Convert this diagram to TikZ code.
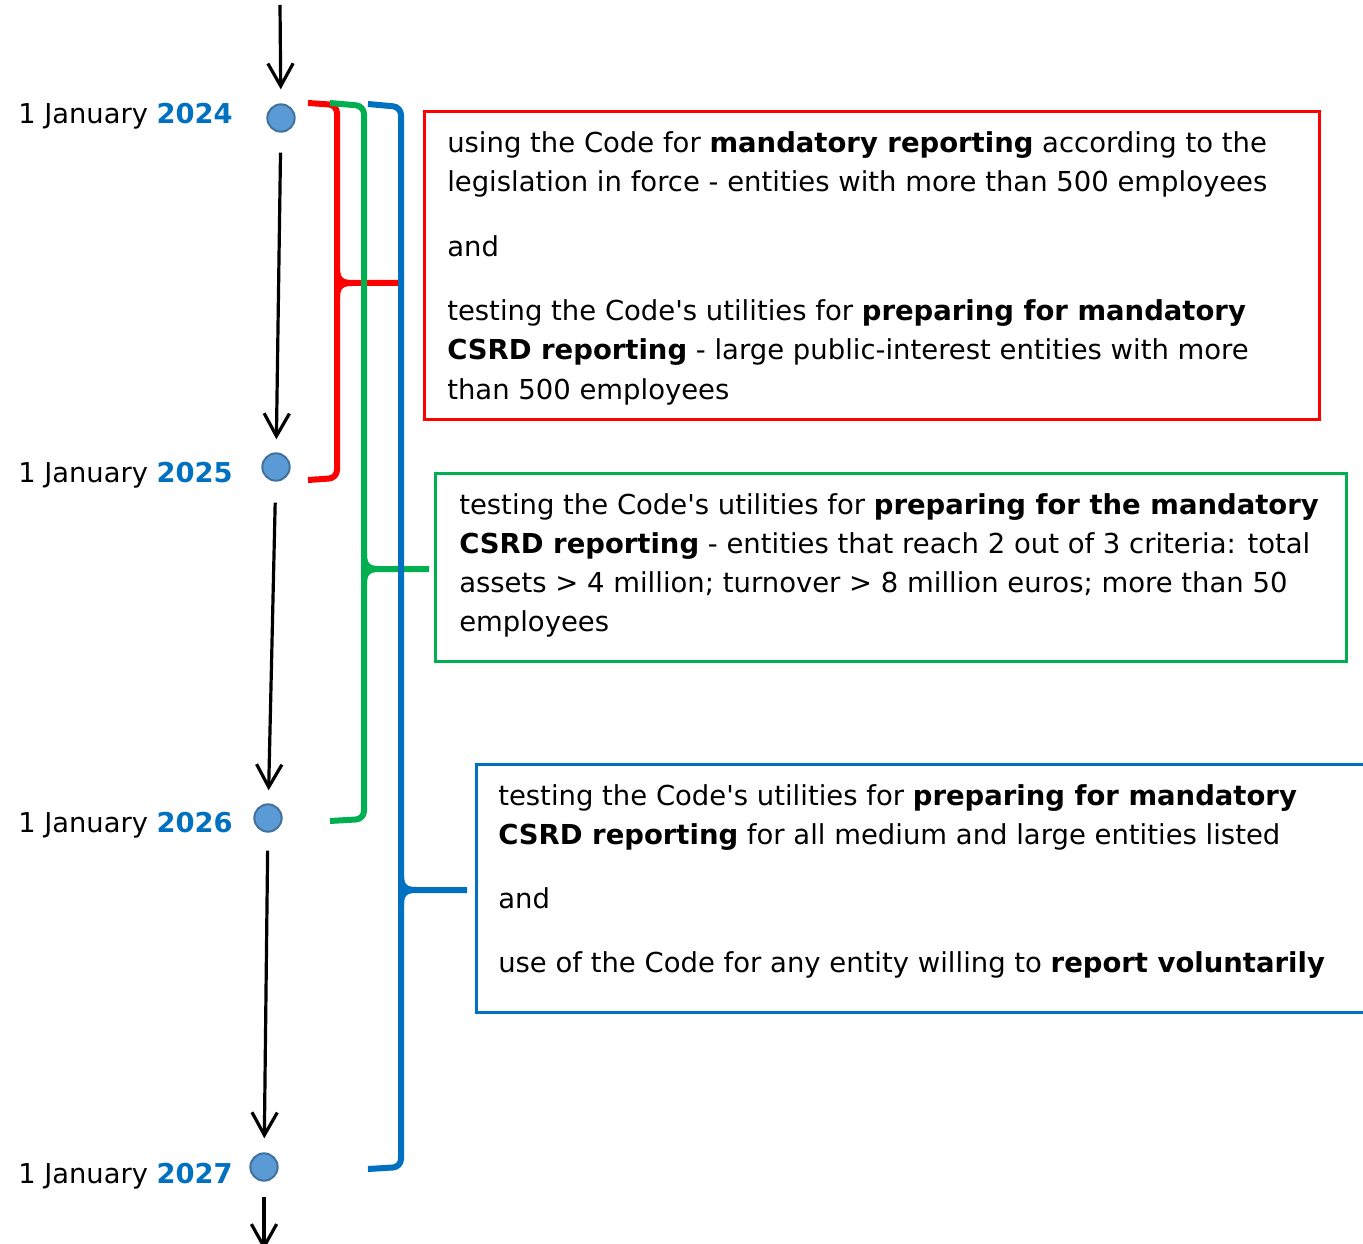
\documentclass[tikz,border=0pt]{standalone}
\usepackage{fontspec}
\setmainfont{DejaVu Sans}
\usetikzlibrary{arrows.meta}
\definecolor{cred}{RGB}{255,0,0}
\definecolor{cgreen}{RGB}{0,176,80}
\definecolor{cblue}{RGB}{0,112,192}
\definecolor{dotfill}{RGB}{91,155,213}
\definecolor{dotline}{RGB}{65,113,156}
\begin{document}
\begin{tikzpicture}[x=0.75pt,y=-0.75pt,
  timearrow/.style={line width=2.4pt,-{Straight Barb[length=17pt,width=19pt]}},
  dot/.style={circle,fill=dotfill,draw=dotline,line width=1.5pt,minimum size=20.5pt,inner sep=0pt},
  datelabel/.style={anchor=base west,inner sep=0pt,font=\fontsize{20.5pt}{25pt}\selectfont},
  txt/.style={anchor=base west,inner sep=0pt,font=\fontsize{20.6pt}{29pt}\selectfont},
  bracket/.style={line width=4.5pt,rounded corners=6pt},
  brtip/.style={line width=4.5pt},
  boxframe/.style={line width=2.6pt,anchor=north west,inner sep=0pt}]
\useasboundingbox (0,0) rectangle (1363,1244);
\clip (0,0) rectangle (1363,1244);

% timeline dots
\node[dot] (d24) at (281,118) {};
\node[dot] (d25) at (276,467) {};
\node[dot] (d26) at (268,818) {};
\node[dot] (d27) at (264,1167) {};

% date labels
\node[datelabel] (l24) at (18,124) {1 January \textbf{\color{cblue}2024}};
\node[datelabel] (l25) at (18,482) {1 January \textbf{\color{cblue}2025}};
\node[datelabel] (l26) at (18,832) {1 January \textbf{\color{cblue}2026}};
\node[datelabel] (l27) at (18,1183) {1 January \textbf{\color{cblue}2027}};

% arrows
\coordinate (topstart) at (280,5);
\coordinate (botend) at (264,1250);
\draw[timearrow,shorten >=10.5pt] (topstart) -- (d24);
\draw[timearrow,shorten <=15pt,shorten >=9.75pt] (d24) -- (d25);
\draw[timearrow,shorten <=15.75pt,shorten >=9.75pt] (d25) -- (d26);
\draw[timearrow,shorten <=13.5pt,shorten >=10.5pt] (d26) -- (d27);
\draw[timearrow,shorten <=11.25pt] (d27) -- (botend);

% brackets
\draw[bracket,cred] (308,103) -- (337,105) -- (337,478) -- (308,480);
\draw[brtip,cred] (337,268) .. controls (337,279) and (341,283) .. (352,283) -- (398,283);
\draw[brtip,cred] (337,298) .. controls (337,287) and (341,283) .. (352,283);

\draw[bracket,cgreen] (330,103) -- (364,106) -- (364,819) -- (330,821);
\draw[brtip,cgreen] (364,554) .. controls (364,565) and (368,569) .. (379,569) -- (429,569);
\draw[brtip,cgreen] (364,584) .. controls (364,573) and (368,569) .. (379,569);

\draw[bracket,cblue] (368,104) -- (401,107) -- (401,1167) -- (368,1169);
\draw[brtip,cblue] (401,875) .. controls (401,886) and (405,890) .. (416,890) -- (467,890);
\draw[brtip,cblue] (401,905) .. controls (401,894) and (405,890) .. (416,890);

% boxes
\node[boxframe,draw=cred,minimum width=671.25pt,minimum height=231pt] (rbox) at (423,110) {};
\node[boxframe,draw=cgreen,minimum width=683.25pt,minimum height=141pt] (gbox) at (434,472) {};
\node[boxframe,draw=cblue,minimum width=675pt,minimum height=186pt] (bbox) at (475,763) {};

% red box text
\node[txt] (r1) at (447,153) {using the Code for \textbf{mandatory reporting} according to the};
\node[txt] (r2) at (447,192) {legislation in force - entities with more than 500 employees};
\node[txt] (r3) at (447,257) {and};
\node[txt] (r4) at (447,321) {testing the Code\textquotesingle s utilities for \textbf{preparing for mandatory}};
\node[txt] (r5) at (447,360) {\textbf{CSRD reporting} - large public-interest entities with more};
\node[txt] (r6) at (447,399) {than 500 employees};

% green box text
\node[txt] (g1) at (459,514) {testing the Code\textquotesingle s utilities for \textbf{preparing for the mandatory}};
\node[txt] (g2) at (459,553) {\textbf{CSRD reporting} - entities that reach 2 out of 3 criteria: total};
\node[txt] (g3) at (459,592) {assets > 4 million; turnover > 8 million euros; more than 50};
\node[txt] (g4) at (459,631) {employees};

% blue box text
\node[txt] (b1) at (498,805) {testing the Code\textquotesingle s utilities for \textbf{preparing for mandatory}};
\node[txt] (b2) at (498,844) {\textbf{CSRD reporting} for all medium and large entities listed};
\node[txt] (b3) at (498,908) {and};
\node[txt] (b4) at (498,972) {use of the Code for any entity willing to \textbf{report voluntarily}};
\end{tikzpicture}
\end{document}
